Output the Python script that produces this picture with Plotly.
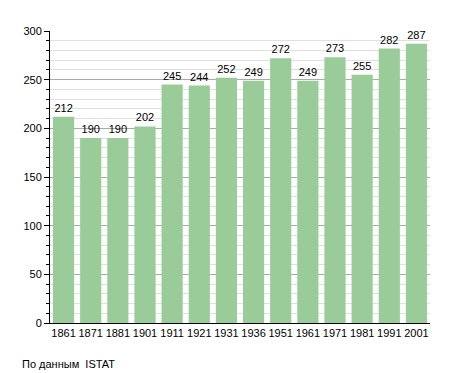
import plotly.graph_objects as go

years = ["1861", "1871", "1881", "1901", "1911", "1921", "1931", "1936",
         "1951", "1961", "1971", "1981", "1991", "2001"]
population = [212, 190, 190, 202, 245, 244, 252, 249, 272, 249, 273, 255, 282, 287]
y_ticks = [0, 50, 100, 150, 200, 250, 300]

fig = go.Figure()
fig.add_trace(go.Bar(
    x=years, y=population,
    marker=dict(color="#99cc99", line=dict(width=0)),
    text=[str(v) for v in population],
    textposition="outside",
    textfont=dict(family="Liberation Sans, Arial", size=11, color="black"),
    cliponaxis=False,
    width=0.78,
))

fig.update_layout(
    width=447, height=365,
    margin=dict(l=42, r=25, t=23, b=50, autoexpand=False),
    paper_bgcolor="white", plot_bgcolor="white",
    showlegend=False,
    font=dict(family="Liberation Sans, Arial", size=11, color="black"),
    xaxis=dict(
        type="category", showline=True, linecolor="black", linewidth=1,
        ticks="", tickfont=dict(size=11), showgrid=False, automargin=False,
    ),
    yaxis=dict(
        range=[0, 300], tickvals=y_ticks, ticks="outside", ticklen=5,
        tickcolor="black", showline=True, linecolor="black", linewidth=1,
        gridcolor="#aaaaaa", gridwidth=1, zeroline=False,
        tickfont=dict(size=11), automargin=False,
        minor=dict(dtick=10, showgrid=True, gridcolor="#e0e0e0",
                   ticks="outside", ticklen=3, tickcolor="black"),
    ),
    bargap=0.2,
)
fig.add_annotation(
    text="По данным  ISTAT", xref="paper", yref="paper",
    x=-0.079, y=-0.113, xanchor="left", yanchor="top", showarrow=False,
    font=dict(size=11, color="black"),
)
fig.write_html("out.html")
